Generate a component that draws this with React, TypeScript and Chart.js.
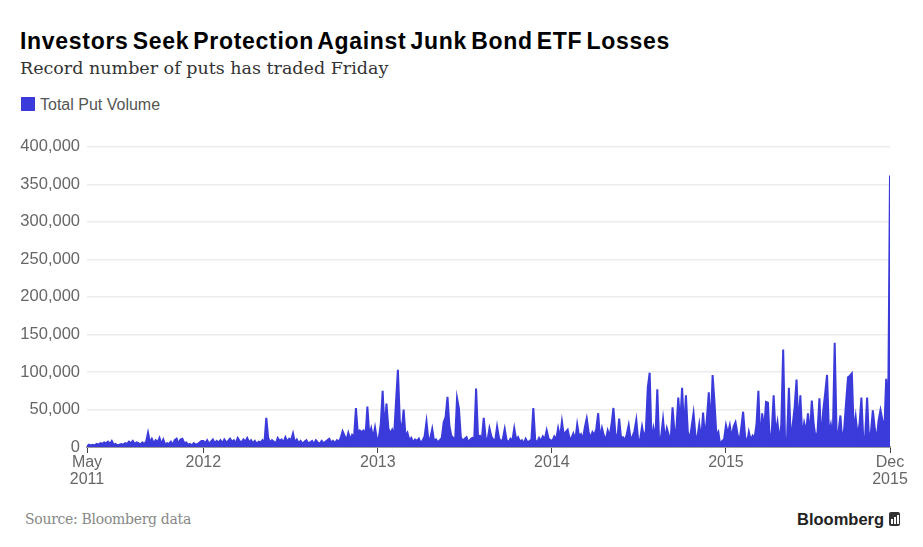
import React, { useEffect, useRef } from "react";
import { Chart, registerables } from "chart.js";

Chart.register(...registerables);

// Total put volume, thousands of contracts, one reading every 4 calendar days from START_DATE
const START_DATE = "2011-05-02";
const STEP_DAYS = 4;

const volume2011 = [
  1, 3, 2, 3, 2, 4, 3, 5, 4, 6,
  5, 7, 4, 8, 3, 4, 2, 3, 4, 3,
  5, 4, 7, 5, 8, 4, 6, 5, 3, 6,
  4, 7, 19, 6, 11, 5, 9, 6, 12, 4,
  10, 3, 5, 4, 7, 3, 9, 11, 4, 10,
  11, 5, 6, 3, 4, 2, 5, 3, 4, 6, 8,
];
const volume2012 = [
  8, 5, 9, 4, 7, 10, 5, 8, 6, 9,
  5, 10, 6, 8, 11, 7, 9, 5, 12, 8,
  6, 10, 7, 12, 6, 9, 5, 8, 4, 7,
  6, 9, 5, 39, 12, 6, 9, 7, 5, 12,
  8, 10, 6, 13, 7, 11, 9, 18, 6, 10,
  5, 8, 4, 7, 9, 5, 6, 8, 4, 9,
  6, 4, 8, 5, 7, 9, 11, 6, 8, 5,
  9, 7, 12, 21, 15, 9, 19, 10, 16, 13,
  52, 18, 22, 20, 22, 14, 54, 16, 25, 12, 26, 10,
];
const volume2013 = [
  12, 30, 75, 22, 58, 25, 18, 23, 15, 60,
  103, 35, 20, 50, 14, 19, 9, 12, 6, 10,
  8, 11, 5, 9, 14, 34, 9, 12, 24, 7,
  10, 6, 9, 12, 33, 40, 67, 28, 15, 12,
  9, 65, 51, 13, 8, 11, 13, 6, 10, 12,
  9, 78, 14, 15, 10, 39, 12, 9, 25, 14,
  10, 8, 27, 12, 7, 10, 24, 9, 6, 11,
  8, 25, 10, 13, 7, 9, 5, 11, 6, 8,
  10, 52, 9, 6, 12, 8, 14, 10, 22, 11, 9,
];
const volume2014 = [
  8, 14, 10, 25, 12, 34, 15, 20, 23, 11,
  12, 18, 9, 30, 14, 17, 10, 26, 38, 20,
  12, 20, 16, 24, 45, 11, 25, 15, 9, 22,
  14, 30, 52, 18, 10, 38, 12, 13, 9, 17,
  29, 10, 14, 21, 36, 8, 10, 27, 13, 22,
  79, 99, 5, 25, 12, 77, 3, 14, 37, 10,
  25, 16, 9, 53, 20, 24, 66, 30, 79, 22,
  69, 20, 10, 27, 45, 15, 12, 30, 9, 46,
  12, 38, 73, 25, 96, 59, 15, 20, 2, 8, 10,
];
const volume2015 = [
  29, 18, 29, 12, 27, 33, 18, 6, 25, 47,
  15, 4, 20, 9, 15, 12, 30, 75, 5, 45,
  22, 60, 59, 5, 20, 69, 18, 33, 8, 30,
  130, 5, 10, 79, 8, 30, 53, 90, 25, 69,
  14, 32, 20, 45, 15, 62, 30, 12, 20, 65,
  7, 49, 71, 96, 18, 30, 12, 139, 18, 20,
  42, 5, 25, 60, 93, 95, 98, 20, 40, 15,
  30, 66, 9, 15, 66, 9, 20, 49, 25, 9,
  35, 49, 36, 20, 91, 32, 362,
];

const tickDates = ["2011-05-02", "2012-01-01", "2013-01-01", "2014-01-01", "2015-01-01", "2015-12-11"];
const tickLabels: (string | string[])[] = [["May", "2011"], "2012", "2013", "2014", "2015", ["Dec", "2015"]];
const yTicks = [0, 50000, 100000, 150000, 200000, 250000, 300000, 350000, 400000];

const BLUE = "#3b3bdb";
const DAY = 86400000;
const dayOffset = (d: string) => Math.round((Date.parse(d) - Date.parse(START_DATE)) / DAY);

export default function App() {
  const ref = useRef<HTMLCanvasElement | null>(null);

  useEffect(() => {
    const all = [...volume2011, ...volume2012, ...volume2013, ...volume2014, ...volume2015];
    const points = all.map((v, i) => ({ x: i * STEP_DAYS, y: v * 1000 }));
    const tickPos = tickDates.map(dayOffset);
    const chart = new Chart(ref.current as HTMLCanvasElement, {
      type: "line",
      data: {
        datasets: [
          {
            label: "Total Put Volume",
            data: points,
            borderColor: BLUE,
            backgroundColor: BLUE,
            borderWidth: 2,
            pointRadius: 0,
            tension: 0,
            fill: "origin",
          },
        ],
      },
      options: {
        animation: false,
        responsive: false,
        devicePixelRatio: 1,
        layout: { padding: { top: 14, right: 33, left: 0, bottom: 0 } },
        plugins: { legend: { display: false }, tooltip: { enabled: false } },
        scales: {
          x: {
            type: "linear",
            min: tickPos[0],
            max: tickPos[tickPos.length - 1],
            afterBuildTicks: (scale: any) => {
              scale.ticks = tickPos.map((v) => ({ value: v }));
            },
            afterFit: (scale: any) => {
              scale.height = 53;
            },
            grid: { display: true, drawOnChartArea: false, drawTicks: true, tickLength: 6, color: "#444", lineWidth: 1 },
            border: { display: true, color: "#9a9a9a", width: 2 },
            ticks: {
              autoSkip: false,
              maxRotation: 0,
              padding: 1,
              color: "#666",
              font: { family: "Liberation Sans", size: 16, lineHeight: 1.05 },
              callback: (value: any) => {
                const idx = tickPos.indexOf(Number(value));
                return idx >= 0 ? tickLabels[idx] : "";
              },
            },
          },
          y: {
            min: 0,
            max: 400000,
            afterBuildTicks: (scale: any) => {
              scale.ticks = yTicks.map((v) => ({ value: v }));
            },
            afterFit: (scale: any) => {
              scale.width = 87;
            },
            grid: { color: "#ececec", lineWidth: 1.5, drawTicks: false },
            border: { display: false },
            ticks: {
              padding: 7,
              color: "#666",
              font: { family: "Liberation Sans", size: 16.5 },
              callback: (value: any) => Number(value).toLocaleString("en-US"),
            },
          },
        },
      },
    } as any);
    return () => chart.destroy();
  }, []);

  return (
    <div style={{ position: "absolute", left: 0, top: 0, width: 923, height: 547, background: "#fff", overflow: "hidden" }}>
      <div
        style={{
          position: "absolute", left: 20, top: 30, fontFamily: "Liberation Sans", fontWeight: 700,
          fontSize: 23, lineHeight: "23px", letterSpacing: "0.7px", wordSpacing: "-3px", color: "#000", whiteSpace: "nowrap",
        }}
      >
        Investors Seek Protection Against Junk Bond ETF Losses
      </div>
      <div
        style={{
          position: "absolute", left: 20, top: 60, fontFamily: "DejaVu Serif", fontSize: 17.5,
          lineHeight: "17.5px", color: "#333", whiteSpace: "nowrap",
        }}
      >
        Record number of puts has traded Friday
      </div>
      <div style={{ position: "absolute", left: 21, top: 97, width: 14, height: 14, background: BLUE }} />
      <div
        style={{
          position: "absolute", left: 40, top: 96.5, fontFamily: "Liberation Sans", fontSize: 16,
          lineHeight: "16px", color: "#555", whiteSpace: "nowrap",
        }}
      >
        Total Put Volume
      </div>
      <canvas ref={ref} width={923} height={370} style={{ position: "absolute", left: 0, top: 130, width: 923, height: 370 }} />
      <div
        style={{
          position: "absolute", left: 25, top: 511.5, fontFamily: "DejaVu Serif", fontSize: 14,
          lineHeight: "14px", color: "#888", whiteSpace: "nowrap", letterSpacing: "-0.3px",
        }}
      >
        Source: Bloomberg data
      </div>
      <div
        style={{
          position: "absolute", left: 797, top: 511, fontFamily: "Liberation Sans", fontWeight: 700, fontSize: 16.5,
          lineHeight: "16.5px", color: "#222", whiteSpace: "nowrap", letterSpacing: "0px",
        }}
      >
        Bloomberg
      </div>
      <div style={{ position: "absolute", left: 889, top: 512, width: 11, height: 14, background: "#333", borderRadius: 2 }}>
        <div style={{ position: "absolute", left: 2, top: 7, width: 1.5, height: 5, background: "#fff" }} />
        <div style={{ position: "absolute", left: 5, top: 5, width: 1.5, height: 7, background: "#fff" }} />
        <div style={{ position: "absolute", left: 8, top: 3, width: 1.5, height: 9, background: "#fff" }} />
      </div>
    </div>
  );
}
